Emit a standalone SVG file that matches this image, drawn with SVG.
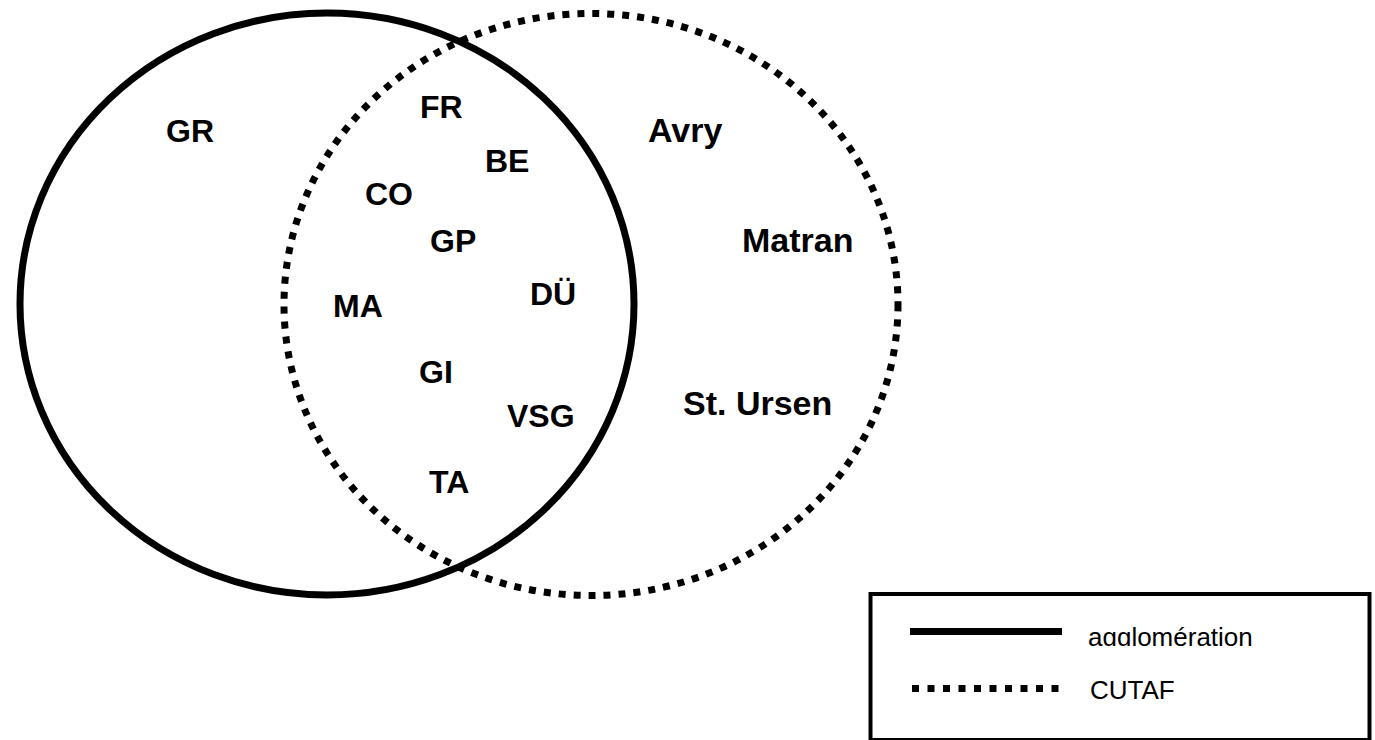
<svg xmlns="http://www.w3.org/2000/svg" width="1375" height="740" viewBox="0 0 1375 740">
  <style>
    .lbl { font-family: "Liberation Sans", Arial, sans-serif; font-weight: bold; font-size: 32px; fill: #000; }
    .big { font-size: 34px; }
    .leg { font-family: "Liberation Sans", Arial, sans-serif; font-size: 26px; fill: #000; }
    .solid { fill: none; stroke: #000; stroke-width: 7; }
    .dotted { fill: none; stroke: #000; stroke-width: 7; stroke-dasharray: 7 8; }
  </style>
  <defs>
    <clipPath id="clipAgg">
      <rect x="1080" y="610" width="200" height="36"/>
    </clipPath>
  </defs>
  <rect x="0" y="0" width="1375" height="740" fill="#fff"/>
  <g id="sets">
    <ellipse id="agglomeration" class="solid" cx="327" cy="304" rx="307" ry="291"/>
    <ellipse id="cutaf" class="dotted" cx="591" cy="304.5" rx="307" ry="291"/>
  </g>
  <g id="connectors"></g>
  <g id="node-GR"><text class="lbl" x="166" y="142">GR</text></g>
  <g id="node-FR"><text class="lbl" x="420" y="118">FR</text></g>
  <g id="node-BE"><text class="lbl" x="485" y="172">BE</text></g>
  <g id="node-CO"><text class="lbl" x="365" y="205">CO</text></g>
  <g id="node-GP"><text class="lbl" x="430" y="252">GP</text></g>
  <g id="node-MA"><text class="lbl" x="333" y="317">MA</text></g>
  <g id="node-DU"><text class="lbl" x="530" y="305">DÜ</text></g>
  <g id="node-GI"><text class="lbl" x="419" y="383">GI</text></g>
  <g id="node-VSG"><text class="lbl" x="507" y="427">VSG</text></g>
  <g id="node-TA"><text class="lbl" x="429" y="493">TA</text></g>
  <g id="node-Avry"><text class="lbl big" x="648" y="142">Avry</text></g>
  <g id="node-Matran"><text class="lbl big" x="742" y="252">Matran</text></g>
  <g id="node-StUrsen"><text class="lbl big" x="683" y="415">St. Ursen</text></g>
  <g id="legend">
    <rect x="870.5" y="594" width="499" height="146" fill="none" stroke="#000" stroke-width="4"/>
    <line x1="910" y1="631.5" x2="1062" y2="631.5" stroke="#000" stroke-width="7"/>
    <text class="leg" x="1088" y="646" clip-path="url(#clipAgg)">agglomération</text>
    <line x1="912" y1="688.5" x2="1064" y2="688.5" stroke="#000" stroke-width="7" stroke-dasharray="7 8.5"/>
    <text class="leg" x="1090" y="699">CUTAF</text>
  </g>
</svg>
